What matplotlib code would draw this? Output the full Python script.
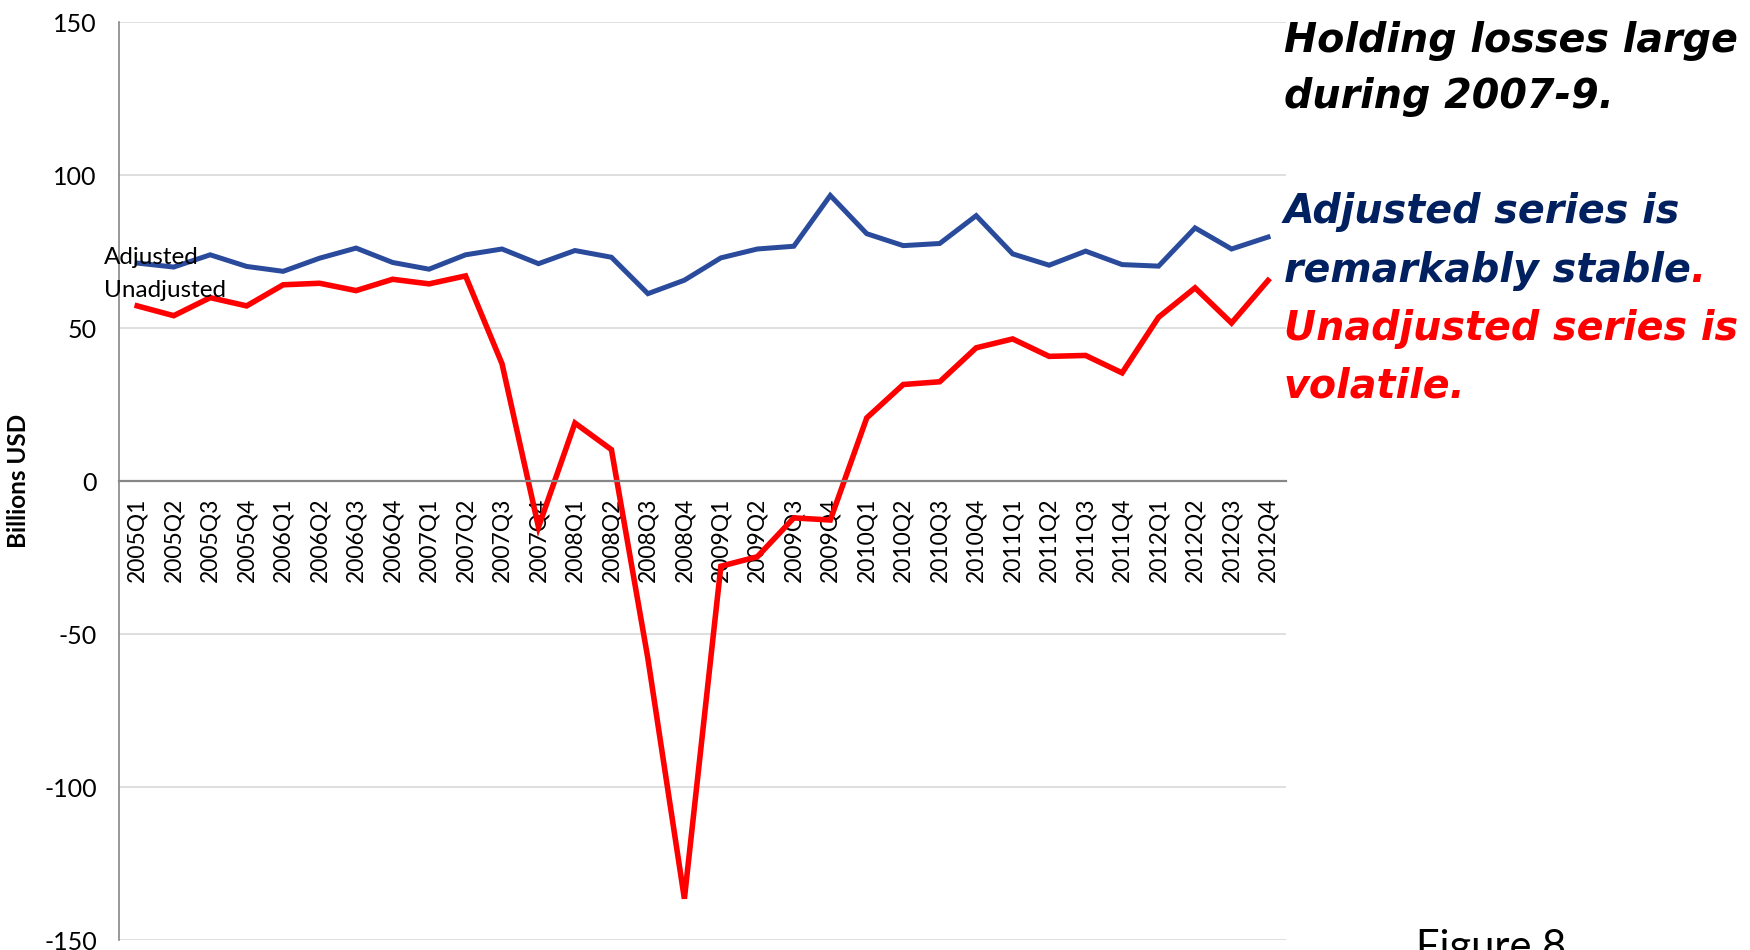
import matplotlib
matplotlib.use("Agg")
import matplotlib.pyplot as plt

# ---------------------------------------------
# datos (miles de millones USD, trimestral)
# ---------------------------------------------
trimestres = [f"{a}Q{q}" for a in range(2005, 2013) for q in range(1, 5)]

ajustada = [71.3, 70.0, 74.0, 70.2, 68.6, 72.9, 76.2, 71.5,
            69.3, 74.0, 75.9, 71.1, 75.4, 73.2, 61.3, 65.7,
            73.0, 75.9, 76.8, 93.4, 80.9, 77.0, 77.7, 86.8,
            74.3, 70.6, 75.2, 70.8, 70.3, 82.8, 75.9, 79.8]

sin_ajustar = [57.3, 54.1, 60.0, 57.3, 64.2, 64.7, 62.3, 66.0,
               64.5, 67.1, 38.4, -15.0, 19.0, 10.3, -58.0, -136.5,
               -27.8, -24.7, -12.0, -12.7, 20.7, 31.6, 32.5, 43.6,
               46.5, 40.8, 41.1, 35.4, 53.6, 63.2, 51.7, 65.6]

yticks = [-150, -100, -50, 0, 50, 100, 150]

azul = "#2A4A9C"
rojo = "#FF0000"
azul_texto = "#002060"

# ---------------------------------------------
# figura
# ---------------------------------------------
fig = plt.figure(figsize=(17.5, 9.5), dpi=100)
ax = fig.add_axes([0.068, 0.0105, 0.667, 0.966])

x = list(range(len(trimestres)))
ax.plot(x, ajustada, color=azul, linewidth=3.6, solid_joinstyle="miter")
ax.plot(x, sin_ajustar, color=rojo, linewidth=4.0, solid_joinstyle="miter")

ax.set_xlim(-0.5, len(trimestres) - 0.5)
ax.set_ylim(-150, 150)
ax.set_yticks(yticks)
ax.set_yticklabels([str(v) for v in yticks], fontsize=18, family="Lato")

# rejilla
for v in yticks:
    if v != 0:
        ax.axhline(v, color="#D9D9D9", linewidth=1.2, zorder=0)

# ejes
ax.spines["top"].set_visible(False)
ax.spines["right"].set_visible(False)
ax.spines["bottom"].set_position(("data", 0))
ax.spines["bottom"].set_color("#868686")
ax.spines["bottom"].set_linewidth(1.6)
ax.spines["left"].set_color("#868686")
ax.spines["left"].set_linewidth(1.2)
ax.tick_params(axis="both", length=0)
ax.tick_params(axis="y", pad=16)

ax.set_xticks(x)
ax.set_xticklabels(trimestres, rotation=90, fontsize=16.5, family="Lato", va="top")
ax.tick_params(axis="x", pad=12)

ax.set_ylabel("Billions USD", fontsize=17.5, fontweight="bold", family="Lato", labelpad=10)

# etiquetas de las series
ax.annotate("Adjusted", xy=(0, ajustada[0]), xytext=(-24, 4), textcoords="offset points",
            fontsize=17.5, family="Lato", ha="left", va="center")
ax.annotate("Unadjusted", xy=(0, sin_ajustar[0]), xytext=(-24, 11), textcoords="offset points",
            fontsize=17.5, family="Lato", ha="left", va="center")

# textos de la derecha
fuente = dict(family="DejaVu Sans", fontsize=28.5, fontweight="bold", style="italic")
x0 = 0.7335
fig.text(x0, 0.957, "Holding losses large", color="black", va="center", **fuente)
fig.text(x0, 0.898, "during 2007-9.", color="black", va="center", **fuente)
fig.text(x0, 0.777, "Adjusted series is", color=azul_texto, va="center", **fuente)
t = fig.text(x0, 0.715, "remarkably stable", color=azul_texto, va="center", **fuente)
fig.canvas.draw()
bb = t.get_window_extent()
fig.text(bb.x1 / fig.bbox.width, 0.715, ".", color=rojo, va="center", **fuente)
fig.text(x0, 0.654, "Unadjusted series is", color=rojo, va="center", **fuente)
fig.text(x0, 0.593, "volatile.", color=rojo, va="center", **fuente)

fig.text(0.809, 0.022, "Figure 8", fontsize=30, family="Lato", va="top")

fig.savefig("out.png", dpi=100)
